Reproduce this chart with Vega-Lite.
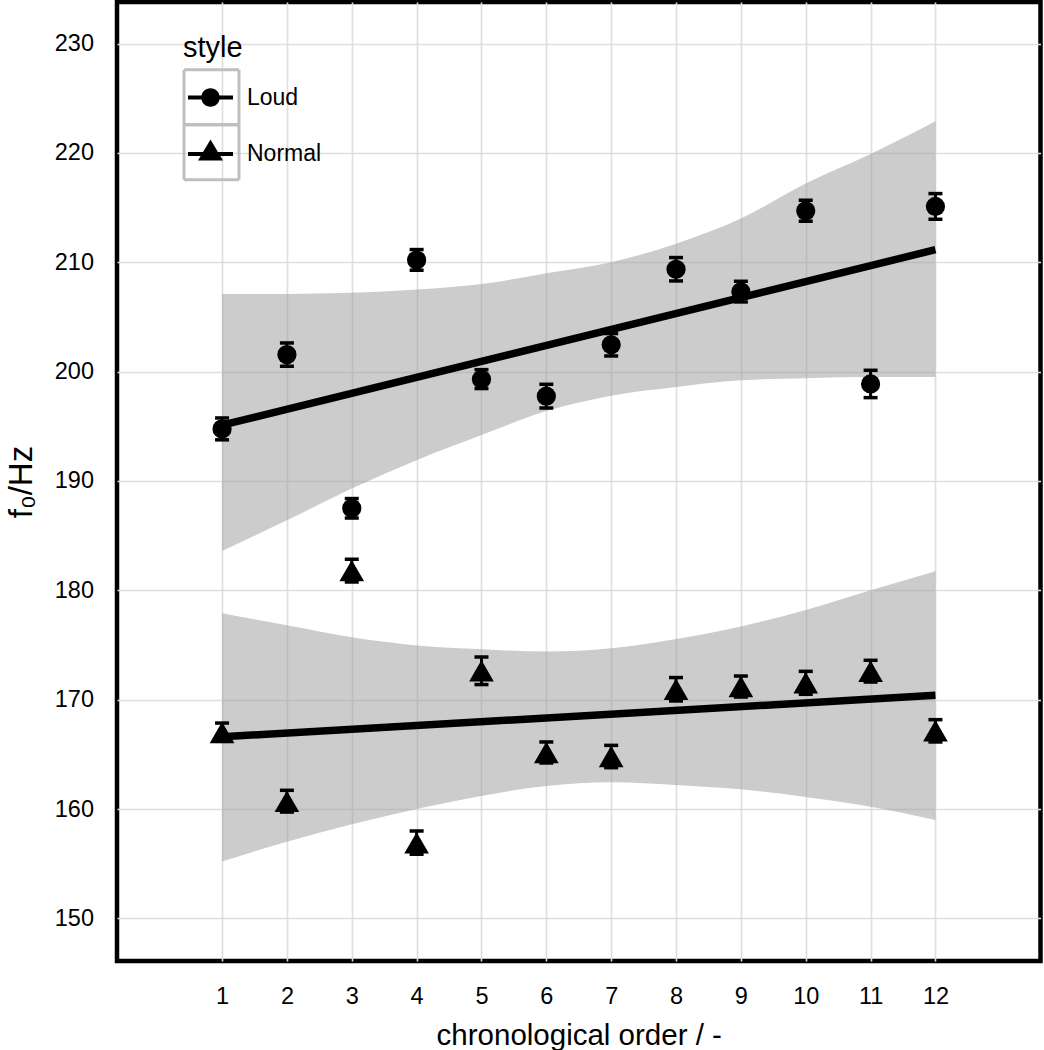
{
  "$schema": "https://vega.github.io/schema/vega-lite/v6.json",
  "width": 923.5,
  "height": 959,
  "autosize": {"type": "none"},
  "padding": {"left": 117, "top": 2, "right": 3.5, "bottom": 89},
  "background": "white",
  "config": {
    "view": {"stroke": "black", "strokeWidth": 4.5},
    "font": "Liberation Sans"
  },
  "datasets": {
    "pts": [
      {"order": 1, "style": "Loud", "f0": 194.76, "lo": 193.76, "hi": 195.76},
      {"order": 2, "style": "Loud", "f0": 201.55, "lo": 200.49, "hi": 202.62},
      {"order": 3, "style": "Loud", "f0": 187.5, "lo": 186.61, "hi": 188.39},
      {"order": 4, "style": "Loud", "f0": 210.2, "lo": 209.27, "hi": 211.16},
      {"order": 5, "style": "Loud", "f0": 199.3, "lo": 198.45, "hi": 200.18},
      {"order": 6, "style": "Loud", "f0": 197.75, "lo": 196.67, "hi": 198.84},
      {"order": 7, "style": "Loud", "f0": 202.45, "lo": 201.43, "hi": 203.48},
      {"order": 8, "style": "Loud", "f0": 209.36, "lo": 208.29, "hi": 210.43},
      {"order": 9, "style": "Loud", "f0": 207.3, "lo": 206.37, "hi": 208.26},
      {"order": 10, "style": "Loud", "f0": 214.7, "lo": 213.75, "hi": 215.67},
      {"order": 11, "style": "Loud", "f0": 198.87, "lo": 197.62, "hi": 200.12},
      {"order": 12, "style": "Loud", "f0": 215.1, "lo": 213.93, "hi": 216.28},
      {"order": 1, "style": "Normal", "f0": 167.0, "lo": 166.19, "hi": 167.86},
      {"order": 2, "style": "Normal", "f0": 160.7, "lo": 159.72, "hi": 161.71},
      {"order": 3, "style": "Normal", "f0": 181.8, "lo": 180.76, "hi": 182.84},
      {"order": 4, "style": "Normal", "f0": 156.9, "lo": 155.86, "hi": 157.99},
      {"order": 5, "style": "Normal", "f0": 172.64, "lo": 171.38, "hi": 173.9},
      {"order": 6, "style": "Normal", "f0": 165.17, "lo": 164.21, "hi": 166.13},
      {"order": 7, "style": "Normal", "f0": 164.8, "lo": 163.78, "hi": 165.82},
      {"order": 8, "style": "Normal", "f0": 170.95, "lo": 169.88, "hi": 172.02},
      {"order": 9, "style": "Normal", "f0": 171.2, "lo": 170.24, "hi": 172.16},
      {"order": 10, "style": "Normal", "f0": 171.54, "lo": 170.49, "hi": 172.59},
      {"order": 11, "style": "Normal", "f0": 172.6, "lo": 171.61, "hi": 173.6},
      {"order": 12, "style": "Normal", "f0": 167.15, "lo": 166.13, "hi": 168.17}
    ],
    "band": [
      {"order": 1, "style": "Loud", "lo": 183.6, "hi": 207.1},
      {"order": 2, "style": "Loud", "lo": 186.4, "hi": 207.1},
      {"order": 3, "style": "Loud", "lo": 189.3, "hi": 207.2},
      {"order": 4, "style": "Loud", "lo": 191.9, "hi": 207.5},
      {"order": 5, "style": "Loud", "lo": 194.2, "hi": 208.0},
      {"order": 6, "style": "Loud", "lo": 196.4, "hi": 209.0},
      {"order": 7, "style": "Loud", "lo": 197.8, "hi": 210.0},
      {"order": 8, "style": "Loud", "lo": 198.6, "hi": 211.7},
      {"order": 9, "style": "Loud", "lo": 199.2, "hi": 214.0},
      {"order": 10, "style": "Loud", "lo": 199.4, "hi": 217.2},
      {"order": 11, "style": "Loud", "lo": 199.5, "hi": 219.9},
      {"order": 12, "style": "Loud", "lo": 199.5, "hi": 222.9},
      {"order": 1, "style": "Normal", "lo": 155.2, "hi": 177.9},
      {"order": 2, "style": "Normal", "lo": 157.0, "hi": 176.8},
      {"order": 3, "style": "Normal", "lo": 158.6, "hi": 175.7},
      {"order": 4, "style": "Normal", "lo": 160.0, "hi": 174.95},
      {"order": 5, "style": "Normal", "lo": 161.2, "hi": 174.6},
      {"order": 6, "style": "Normal", "lo": 162.1, "hi": 174.4},
      {"order": 7, "style": "Normal", "lo": 162.45, "hi": 174.7},
      {"order": 8, "style": "Normal", "lo": 162.2, "hi": 175.55},
      {"order": 9, "style": "Normal", "lo": 161.8, "hi": 176.7},
      {"order": 10, "style": "Normal", "lo": 161.1, "hi": 178.2},
      {"order": 11, "style": "Normal", "lo": 160.2, "hi": 180.0},
      {"order": 12, "style": "Normal", "lo": 159.0, "hi": 181.75}
    ],
    "fit": [
      {"order": 1, "grp": "Loud", "f0": 195.1},
      {"order": 12, "grp": "Loud", "f0": 211.15},
      {"order": 1, "grp": "Normal", "f0": 166.6},
      {"order": 12, "grp": "Normal", "f0": 170.4}
    ]
  },
  "layer": [
    {
      "data": {"name": "band"},
      "mark": {"type": "area", "interpolate": "monotone", "color": "#999999", "opacity": 0.5},
      "encoding": {
        "x": {"field": "order", "type": "quantitative", "title": "chronological order / -",
              "scale": {"domain": [-0.62, 13.62], "nice": false, "zero": false},
              "axis": {"values": [1,2,3,4,5,6,7,8,9,10,11,12], "format": "d",
                       "grid": true, "gridColor": "#dedede", "gridWidth": 1.6, "ticks": false, "domain": false,
                       "labelFont": "Liberation Sans", "labelFontSize": 23.5, "labelColor": "black", "labelPadding": 23,
                       "titleFont": "Liberation Sans", "titleFontSize": 29.5, "titleFontWeight": "normal", "titleColor": "black", "titlePadding": 14}},
        "y": {"field": "lo", "type": "quantitative", "title": "f₀/Hz",
              "scale": {"domain": [146.1, 233.8], "nice": false, "zero": false},
              "axis": {"values": [150,160,170,180,190,200,210,220,230], "format": "d",
                       "grid": true, "gridColor": "#dedede", "gridWidth": 1.6, "ticks": false, "domain": false,
                       "labelFont": "Liberation Sans", "labelFontSize": 23.5, "labelColor": "black", "labelPadding": 23.5,
                       "titleFont": "Liberation Sans", "titleFontSize": 33, "titleFontWeight": "normal", "titleColor": "black", "titlePadding": 16}},
        "y2": {"field": "hi"},
        "detail": {"field": "style"}
      }
    },
    {
      "data": {"name": "fit"},
      "mark": {"type": "line", "color": "black", "strokeWidth": 7.5},
      "encoding": {
        "x": {"field": "order", "type": "quantitative", "title": "chronological order / -"},
        "y": {"field": "f0", "type": "quantitative", "title": "f₀/Hz"},
        "detail": {"field": "grp"}
      }
    },
    {
      "data": {"name": "fit"},
      "mark": {"type": "point", "shape": "M-1.15,-2.75H4.35V2.75H-1.15Z", "filled": false, "stroke": "#bfbfbf", "strokeWidth": 3, "opacity": 0, "size": 400},
      "encoding": {
        "x": {"field": "order", "type": "quantitative", "title": "chronological order / -"},
        "y": {"field": "f0", "type": "quantitative", "title": "f₀/Hz"},
        "strokeDash": {"field": "grp", "type": "nominal",
          "scale": {"range": [[1, 0], [1, 0]]},
          "legend": {
            "title": null, "orient": "none", "legendX": 67, "legendY": 83.7,
            "symbolType": "M-1.15,-2.75H4.35V2.75H-1.15Z",
            "symbolSize": 400, "symbolStrokeWidth": 3, "symbolStrokeColor": "#bfbfbf", "symbolFillColor": "transparent", "symbolOpacity": 1,
            "rowPadding": -12, "padding": 0,
            "labelExpr": "''", "labelFontSize": 23
          }
        }
      }
    },
    {
      "data": {"name": "pts"},
      "mark": {"type": "rule", "color": "black", "strokeWidth": 3},
      "encoding": {
        "x": {"field": "order", "type": "quantitative", "title": "chronological order / -"},
        "y": {"field": "lo", "type": "quantitative", "title": "f₀/Hz"},
        "y2": {"field": "hi"}
      }
    },
    {
      "data": {"name": "pts"},
      "mark": {"type": "tick", "orient": "horizontal", "color": "black", "size": 14, "thickness": 3.5, "opacity": 1},
      "encoding": {
        "x": {"field": "order", "type": "quantitative", "title": "chronological order / -"},
        "y": {"field": "lo", "type": "quantitative", "title": "f₀/Hz"}
      }
    },
    {
      "data": {"name": "pts"},
      "mark": {"type": "tick", "orient": "horizontal", "color": "black", "size": 14, "thickness": 3.5, "opacity": 1},
      "encoding": {
        "x": {"field": "order", "type": "quantitative", "title": "chronological order / -"},
        "y": {"field": "hi", "type": "quantitative", "title": "f₀/Hz"}
      }
    },
    {
      "data": {"name": "pts"},
      "transform": [{"filter": "datum.style === 'Loud'"}],
      "mark": {"type": "point", "shape": "circle", "size": 370, "filled": true, "color": "black", "opacity": 1},
      "encoding": {
        "x": {"field": "order", "type": "quantitative", "title": "chronological order / -"},
        "y": {"field": "f0", "type": "quantitative", "title": "f₀/Hz"}
      }
    },
    {
      "data": {"name": "pts"},
      "transform": [{"filter": "datum.style === 'Normal'"}],
      "mark": {"type": "point", "shape": "triangle-up", "size": 610, "filled": true, "color": "black", "opacity": 1},
      "encoding": {
        "x": {"field": "order", "type": "quantitative", "title": "chronological order / -"},
        "y": {"field": "f0", "type": "quantitative", "title": "f₀/Hz"}
      }
    },
    {
      "data": {"name": "pts"},
      "mark": {"type": "point", "filled": false, "fill": "black", "stroke": "black", "strokeWidth": 4, "opacity": 0, "size": 400},
      "encoding": {
        "x": {"field": "order", "type": "quantitative", "title": "chronological order / -"},
        "y": {"field": "f0", "type": "quantitative", "title": "f₀/Hz"},
        "shape": {"field": "style", "type": "nominal",
          "scale": {"range": [
            "M-0.7,-0.2H3.8V0.2H-0.7ZM1.55,-0.93A0.93,0.93,0,1,1,1.55,0.93A0.93,0.93,0,1,1,1.55,-0.93Z",
            "M-0.7,-0.2H3.8V0.2H-0.7ZM1.55,-1.45L2.8,0.65L0.3,0.65Z"
          ]},
          "legend": {
            "title": "style", "orient": "none", "legendX": 66, "legendY": 31.5,
            "titleFont": "Liberation Sans", "titleFontSize": 29, "titleFontWeight": "normal", "titleColor": "black", "titlePadding": 23,
            "labelFont": "Liberation Sans", "labelFontSize": 23, "labelColor": "black", "labelOffset": 40,
            "symbolSize": 400, "symbolStrokeWidth": 4, "symbolStrokeColor": "black", "symbolFillColor": "black", "symbolOpacity": 1,
            "rowPadding": 15.5, "padding": 0
          }
        }
      }
    }
  ]
}
